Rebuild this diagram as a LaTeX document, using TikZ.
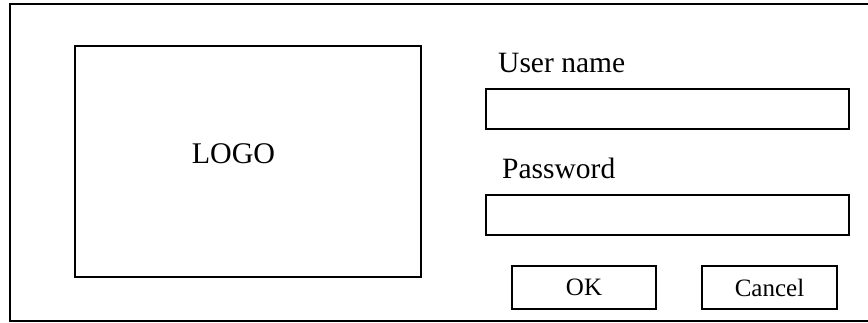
\documentclass[tikz,border=0pt]{standalone}
\usepackage{fontspec}
\setmainfont{Liberation Serif}
\begin{document}
\begin{tikzpicture}[x=1pt,y=-1pt,
  frame/.style={draw=black,line width=1.5pt},
  field/.style={draw=black,line width=1.5pt,rectangle,inner sep=0pt},
  btn/.style={draw=black,line width=1.5pt,rectangle,inner sep=0pt,minimum width=144pt,minimum height=43pt,font=\fontsize{25}{30}\selectfont},
  lbl/.style={anchor=base west,inner sep=0pt,font=\fontsize{29.5}{34}\selectfont}]
\useasboundingbox (0,0) rectangle (868,322);
\begin{scope}
\clip (0,0) rectangle (868,322);
\draw[frame] (10,4) rectangle (875,321);
\end{scope}
\node[field,minimum width=346pt,minimum height=231pt] (logo) at (248,161.5) {};
\node[anchor=base,inner sep=0pt,font=\fontsize{30}{34}\selectfont] (logotext) at (233.5,163) {LOGO};
\node[lbl] (userlbl) at (498,72) {User name};
\node[field,minimum width=363pt,minimum height=40pt] (userbox) at (667.5,109) {};
\node[lbl] (passlbl) at (502,178) {Password};
\node[field,minimum width=363pt,minimum height=40pt] (passbox) at (667.5,215) {};
\node[btn] (ok) at (584,287.5) {OK};
\node[btn,minimum width=135pt] (cancel) at (769.5,287.5) {Cancel};
\end{tikzpicture}
\end{document}
